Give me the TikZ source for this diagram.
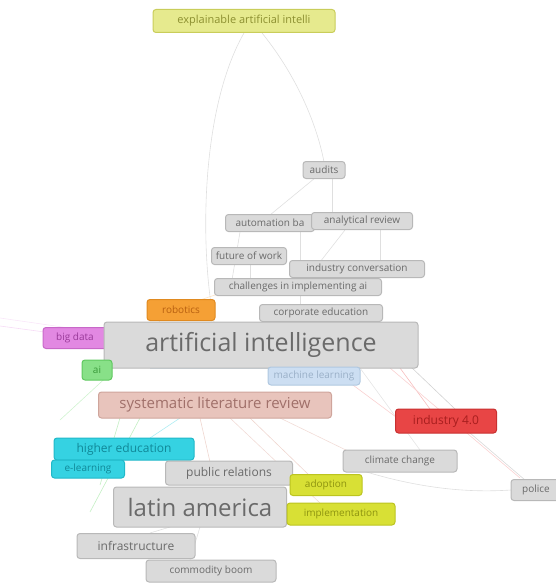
\documentclass[tikz,border=0pt]{standalone}
\usepackage{fontspec}
\setmainfont{Open Sans}
\usetikzlibrary{calc}
\definecolor{gF}{HTML}{DADADA}\definecolor{gD}{HTML}{B8B8B8}\definecolor{gT}{HTML}{6A6A6A}
\definecolor{yF}{HTML}{E6EA8E}\definecolor{yD}{HTML}{C9CD5A}\definecolor{yT}{HTML}{8C8F30}
\definecolor{oF}{HTML}{F5A035}\definecolor{oD}{HTML}{E08A20}\definecolor{oT}{HTML}{B86010}
\definecolor{pF}{HTML}{E288E2}\definecolor{pD}{HTML}{C868C8}\definecolor{pT}{HTML}{9A3A9A}
\definecolor{lgF}{HTML}{88E088}\definecolor{lgD}{HTML}{60C860}\definecolor{lgT}{HTML}{3A9A3A}
\definecolor{bF}{HTML}{CCDEF2}\definecolor{bD}{HTML}{B0C8E0}\definecolor{bT}{HTML}{9AB0C8}
\definecolor{sF}{HTML}{E8C4BC}\definecolor{sD}{HTML}{CFA59C}\definecolor{sT}{HTML}{A0706A}
\definecolor{rF}{HTML}{E84545}\definecolor{rD}{HTML}{C83030}\definecolor{rT}{HTML}{A81E1E}
\definecolor{cF}{HTML}{35D2E2}\definecolor{cD}{HTML}{20B8C8}\definecolor{cT}{HTML}{108898}
\definecolor{aF}{HTML}{D8E035}\definecolor{aD}{HTML}{BCC420}\definecolor{aT}{HTML}{8E9410}
\tikzset{
  kw/.style n args={3}{fill=#1, draw=#2, text=#3, rounded corners=3pt, line width=1pt, inner sep=1pt, anchor=center},
  gbox/.style={kw={gF}{gD}{gT}},
  sm/.style={font=\fontsize{10}{11}\selectfont, minimum height=17pt},
  md/.style={font=\fontsize{12}{13}\selectfont, minimum height=22pt},
  link/.style={line width=0.6pt, draw=gray!25},
}
\begin{document}
\begin{tikzpicture}[x=1pt,y=-1pt]
\useasboundingbox (0,0) rectangle (556,586);
\path
 (244,21) coordinate (pxai)
 (324,170) coordinate (paud)
 (261,345) coordinate (pai);

% ---------- links ----------
\begin{scope}
\draw[link] (244,33) .. controls (200,110) and (200,250) .. (214,322);
\draw[link] (262,33) .. controls (300,80) and (318,130) .. (324,162);
\draw[link] (315,178) -- (270,215);
\draw[link] (332,178) -- (332,212);
\draw[link] (240,232) -- (232,280);
\draw[link] (300,232) -- (300,279);
\draw[link] (345,230) -- (320,262);
\draw[link] (380,230) -- (380,262);
\draw[link] (250,265) -- (250,280);
\draw[link] (300,296) -- (300,322);
\draw[link] (345,322) -- (330,305);
\draw[link,draw=rF!35] (400,368) -- (430,409);
\draw[link,draw=gray!35] (410,366) -- (455,409);
\draw[link,draw=rF!25] (390,368) -- (520,478);
\draw[link,draw=gray!30] (470,433) -- (525,480);
\draw[link,draw=gray!25] (360,470) .. controls (430,492) and (480,492) .. (511,490);
\draw[link,draw=sF!70] (250,418) -- (310,476);
\draw[link,draw=sF!70] (200,418) -- (210,462);
\draw[link,draw=lgF!50] (120,418) -- (100,485);
\draw[link,draw=lgF!50] (140,418) -- (90,512);
\draw[link,draw=sF!60] (280,418) -- (350,452);
\draw[link,draw=sF!60] (230,418) -- (320,503);
\draw[link,draw=cF!40] (150,438) -- (180,418);
\draw[link,draw=gray!25] (200,527) -- (190,560);
\draw[link,draw=gray!25] (170,527) -- (150,533);
\draw[link,draw=pF!30] (0,326) -- (104,340);
\draw[link,draw=pF!20] (0,318) -- (104,333);
\draw[link,draw=oF!30] (160,320) -- (150,340);
\draw[link,draw=oF!30] (200,300) -- (230,290);
\draw[link,draw=bF!80] (150,368) -- (300,368);
\draw[link,draw=lgF!40] (112,372) -- (60,420);
\draw[link,draw=rF!25] (330,368) -- (400,420);
\draw[link,draw=gray!20] (360,368) -- (420,450);
\end{scope}

% ---------- nodes ----------
\node[kw={yF}{yD}{yT}, font=\fontsize{11}{12}\selectfont, minimum width=182pt, minimum height=23pt] (xai) at (pxai) {explainable artificial intelli};
\node[gbox, sm, minimum width=42pt] (audits) at (paud) {audits};
\node[gbox, sm, minimum width=89pt] (autob) at (270,223) {automation ba};
\node[gbox, sm, minimum width=101pt] (anrev) at (362,221) {analytical review};
\node[gbox, sm, minimum width=75pt] (fow) at (249,256) {future of work};
\node[gbox, sm, minimum width=135pt] (indconv) at (357,269) {industry conversation};
\node[gbox, sm, minimum width=167pt] (chall) at (298,287) {challenges in implementing ai};
\node[gbox, sm, minimum width=123pt] (corped) at (321,313) {corporate education};
\node[kw={oF}{oD}{oT}, sm, minimum width=68pt, minimum height=21pt] (robot) at (181,310) {robotics};
\node[kw={pF}{pD}{pT}, sm, minimum width=64pt, minimum height=21pt] (bigdata) at (75,338) {big data};
\node[gbox, font=\fontsize{25}{27}\selectfont, minimum width=314pt, minimum height=46pt] (ai) at (pai) {artificial intelligence};
\node[kw={lgF}{lgD}{lgT}, sm, minimum width=30pt, minimum height=20pt] (aismall) at (97,370) {ai};
\node[kw={bF}{bD}{bT}, sm, minimum width=92pt, minimum height=18pt] (ml) at (314,376) {machine learning};
\node[kw={sF}{sD}{sT}, font=\fontsize{15}{16}\selectfont, minimum width=233pt, minimum height=26pt] (slr) at (215,405) {systematic literature review};
\node[kw={rF}{rD}{rT}, md, minimum width=101pt, minimum height=24pt] (ind4) at (446,421) {industry 4.0};
\node[kw={cF}{cD}{cT}, md, minimum width=140pt, minimum height=22pt] (hied) at (124,449) {higher education};
\node[kw={cF}{cD}{cT}, sm, minimum width=73pt, minimum height=18pt] (elearn) at (88,469) {e-learning};
\node[gbox, md, minimum width=127pt, minimum height=24pt] (pr) at (229,473) {public relations};
\node[gbox, sm, minimum width=114pt, minimum height=22pt] (climate) at (400,461) {climate change};
\node[kw={aF}{aD}{aT}, sm, minimum width=72pt, minimum height=21pt] (adopt) at (326,485) {adoption};
\node[gbox, font=\fontsize{24}{26}\selectfont, minimum width=173pt, minimum height=40pt] (latam) at (200,507) {latin america};
\node[kw={aF}{aD}{aT}, sm, minimum width=108pt, minimum height=22pt] (impl) at (341,514) {implementation};
\node[gbox, md, minimum width=118pt, minimum height=25pt] (infra) at (136,546) {infrastructure};
\node[gbox, sm, minimum width=130pt, minimum height=22pt] (boom) at (211,571) {commodity boom};
\node[gbox, sm, minimum width=50pt, minimum height=21pt] (police) at (536,490) {police};
\end{tikzpicture}
\end{document}
